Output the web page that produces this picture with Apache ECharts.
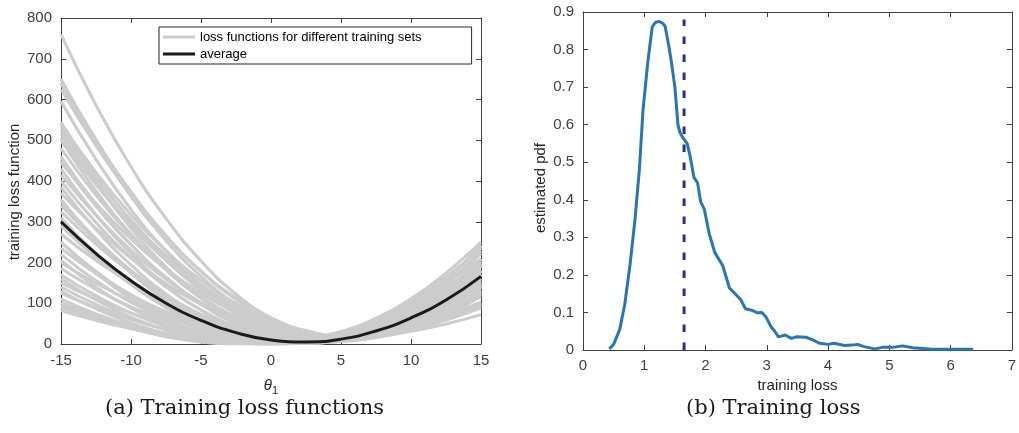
<!DOCTYPE html>
<html>
<head>
<meta charset="utf-8">
<script src="https://cdn.jsdelivr.net/npm/echarts@6/dist/echarts.min.js"></script>
<style>
  html, body { margin: 0; padding: 0; background: #fff; }
  #chart { width: 1019px; height: 433px; }
</style>
</head>
<body>
<div id="chart"></div>
<script>
// (a) loss functions sampled at these theta values
const thetaGrid = [-15, -12.5, -10, -7.5, -5, -2.5, 0, 2.5, 5, 7.5, 10, 12.5, 15];
const lossCurves = [
  [760, 586, 435, 308, 204, 122, 64, 29, 18, 29, 64, 122, 203],
  [650, 502, 374, 266, 178, 109, 59, 30, 20, 30, 59, 109, 178],
  [640, 491, 362, 254, 166, 98, 51, 24, 18, 33, 68, 123, 198],
  [625, 487, 366, 264, 179, 113, 64, 33, 20, 26, 49, 91, 150],
  [595, 453, 330, 228, 145, 83, 41, 19, 17, 35, 73, 131, 209],
  [545, 414, 301, 207, 132, 75, 36, 16, 14, 30, 65, 119, 191],
  [535, 399, 284, 189, 114, 59, 25, 10, 16, 42, 89, 156, 243],
  [525, 407, 304, 217, 146, 91, 52, 28, 20, 28, 52, 91, 146],
  [515, 395, 292, 205, 134, 80, 42, 20, 15, 27, 55, 99, 160],
  [500, 376, 270, 182, 112, 60, 26, 10, 11, 31, 69, 124, 198],
  [480, 365, 266, 183, 117, 67, 33, 15, 13, 28, 59, 106, 169],
  [460, 343, 244, 162, 97, 50, 21, 9, 14, 36, 76, 134, 209],
  [445, 345, 258, 185, 125, 78, 45, 25, 18, 25, 45, 78, 125],
  [430, 317, 222, 144, 83, 40, 14, 5, 14, 40, 83, 144, 222],
  [415, 316, 230, 159, 101, 58, 28, 13, 11, 24, 50, 91, 146],
  [400, 298, 212, 140, 84, 43, 17, 6, 11, 31, 66, 116, 181],
  [385, 281, 194, 123, 69, 31, 9, 4, 16, 44, 88, 149, 227],
  [370, 284, 210, 148, 97, 58, 31, 16, 12, 21, 41, 73, 116],
  [355, 256, 174, 108, 58, 24, 6, 4, 19, 49, 96, 159, 239],
  [340, 254, 180, 119, 71, 36, 14, 5, 9, 26, 56, 99, 154],
  [325, 245, 176, 119, 73, 39, 17, 7, 8, 21, 45, 81, 129],
  [310, 221, 148, 89, 45, 16, 3, 4, 21, 53, 100, 161, 238],
  [290, 212, 146, 93, 52, 23, 7, 3, 12, 33, 67, 113, 171],
  [270, 205, 150, 104, 67, 39, 20, 10, 9, 17, 34, 60, 96],
  [250, 178, 119, 71, 36, 13, 2, 3, 17, 42, 80, 130, 192],
  [235, 173, 121, 79, 46, 22, 8, 3, 8, 22, 46, 79, 121],
  [220, 155, 102, 60, 29, 9, 1, 5, 20, 46, 83, 132, 193],
  [200, 149, 106, 71, 43, 22, 9, 4, 6, 16, 34, 59, 91],
  [185, 134, 91, 56, 30, 13, 4, 3, 10, 26, 51, 84, 125],
  [170, 118, 76, 43, 20, 6, 1, 6, 20, 43, 76, 118, 170],
  [150, 110, 76, 48, 27, 12, 4, 2, 7, 18, 35, 59, 89],
  [140, 97, 62, 35, 16, 4, 0, 4, 16, 35, 62, 97, 140],
  [125, 89, 60, 36, 18, 7, 2, 2, 9, 21, 40, 65, 96],
  [110, 74, 46, 24, 9, 1, 1, 7, 20, 40, 68, 102, 144],
  [100, 69, 44, 25, 11, 3, 0, 3, 11, 25, 44, 69, 100],
  [90, 62, 39, 21, 9, 2, 0, 4, 13, 27, 47, 72, 103],
  [82, 58, 38, 22, 10, 3, 0, 1, 7, 17, 31, 49, 72],
  [95, 63, 38, 19, 6, 1, 1, 8, 22, 42, 69, 102, 142],
  [160, 108, 66, 34, 13, 2, 1, 10, 29, 59, 99, 149, 209],
  [205, 140, 88, 48, 20, 4, 0, 9, 30, 63, 108, 165, 234],
  [100, 65, 38, 18, 5, 0, 2, 12, 29, 53, 85, 124, 171],
  [130, 86, 52, 26, 9, 1, 2, 12, 30, 58, 94, 140, 194],
  [250, 174, 111, 63, 28, 7, 0, 7, 28, 63, 111, 174, 250],
  [300, 217, 147, 91, 48, 20, 5, 3, 15, 41, 81, 135, 202],
  [350, 258, 180, 116, 67, 31, 10, 3, 10, 31, 67, 116, 180],
  [450, 338, 243, 164, 101, 54, 24, 9, 11, 29, 63, 113, 179],
  [505, 391, 292, 208, 140, 86, 48, 25, 18, 25, 48, 86, 140],
  [540, 421, 317, 229, 156, 99, 57, 31, 20, 25, 45, 81, 132]
];
const avgLoss = [300, 222, 155, 100, 58, 28, 10, 5, 12, 32, 64, 108, 166];

// (b) estimated pdf of the training loss
const pdfLoss = [0.43, 0.5, 0.6, 0.68, 0.77, 0.85, 0.92, 0.98, 1.06, 1.13, 1.18, 1.24, 1.3, 1.34, 1.4, 1.44,
  1.5, 1.55, 1.58, 1.63, 1.7, 1.75, 1.81, 1.87, 1.92, 1.98, 2.06, 2.15, 2.28, 2.39, 2.47, 2.58, 2.65,
  2.75, 2.85, 2.92, 2.99, 3.07, 3.13, 3.19, 3.3, 3.4, 3.48, 3.64, 3.75, 3.86, 4.0, 4.1, 4.27, 4.4,
  4.48, 4.59, 4.76, 4.89, 5.05, 5.22, 5.38, 5.54, 5.7, 5.98, 6.37];
const pdfDensity = [0.003, 0.015, 0.055, 0.12, 0.23, 0.35, 0.48, 0.64, 0.77, 0.86, 0.872, 0.875, 0.87, 0.862, 0.81, 0.77,
  0.70, 0.60, 0.58, 0.565, 0.55, 0.515, 0.46, 0.445, 0.395, 0.375, 0.31, 0.26, 0.225, 0.165, 0.152, 0.133, 0.11,
  0.106, 0.099, 0.10, 0.087, 0.062, 0.05, 0.035, 0.040, 0.031, 0.035, 0.034, 0.027, 0.018, 0.015, 0.018, 0.012, 0.013,
  0.015, 0.009, 0.003, 0.007, 0.007, 0.011, 0.006, 0.004, 0.002, 0.002, 0.002];
const meanLoss = 1.65;
const meanLineTop = 0.88;

const axisColor = '#404040';
const labelFont = { color: axisColor, fontSize: 15, fontFamily: 'Liberation Sans' };
const nameFont = { color: '#262626', fontSize: 15, fontFamily: 'Liberation Sans' };

const boxAxis = (extra) => Object.assign({
  axisLine: { show: true, onZero: false, lineStyle: { color: axisColor, width: 1 } },
  axisTick: { show: true, inside: true, length: 5, lineStyle: { color: axisColor } },
  splitLine: { show: false }
}, extra);

const chart = echarts.init(document.getElementById('chart'));

const series = [];
lossCurves.forEach(curve => {
  series.push({
    name: 'loss functions for different training sets',
    type: 'line',
    xAxisIndex: 0, yAxisIndex: 0,
    data: thetaGrid.map((t, i) => [t, curve[i]]),
    smooth: true,
    symbol: 'none',
    silent: true,
    lineStyle: { color: '#cccccc', width: 3 },
    itemStyle: { color: '#cccccc' }
  });
});
series.push({
  name: 'average',
  type: 'line',
  xAxisIndex: 0, yAxisIndex: 0,
  data: thetaGrid.map((t, i) => [t, avgLoss[i]]),
  smooth: true,
  symbol: 'none',
  lineStyle: { color: '#1a1a1a', width: 3 },
  itemStyle: { color: '#1a1a1a' }
});
series.push({
  type: 'line',
  xAxisIndex: 2, yAxisIndex: 2,
  data: pdfLoss.map((x, i) => [x, pdfDensity[i]]),
  symbol: 'none',
  lineStyle: { color: '#2677b4', width: 3 }
});
series.push({
  type: 'line',
  xAxisIndex: 2, yAxisIndex: 2,
  data: [[meanLoss, 0], [meanLoss, meanLineTop]],
  symbol: 'none',
  lineStyle: { color: '#2b2f8c', width: 3, type: [7.5, 10.5] }
});

chart.setOption({
  animation: false,
  grid: [
    { left: 61, top: 18, width: 420, height: 326 },
    { left: 583, top: 12, width: 430, height: 338 }
  ],
  legend: {
    data: [
      { name: 'loss functions for different training sets', icon: 'rect' },
      { name: 'average', icon: 'rect' }
    ],
    left: 159, top: 27,
    orient: 'vertical',
    itemWidth: 32, itemHeight: 3, itemGap: 3,
    padding: [3, 50, 3, 4],
    borderColor: '#262626', borderWidth: 1,
    backgroundColor: '#fff',
    selectedMode: false,
    textStyle: { color: '#000', fontSize: 13, lineHeight: 14, fontFamily: 'Liberation Sans' }
  },
  xAxis: [
    boxAxis({ type: 'value', gridIndex: 0, min: -15, max: 15, interval: 5,
      axisLabel: Object.assign({ margin: 9 }, labelFont),
      name: '{t|θ}{s|1}', nameLocation: 'middle', nameGap: 31,
      nameTextStyle: { rich: {
        t: { fontStyle: 'italic', fontSize: 15, color: '#262626', fontFamily: 'Liberation Sans' },
        s: { fontSize: 11, color: '#262626', fontFamily: 'Liberation Sans', padding: [10, 0, 0, 0] }
      } } }),
    boxAxis({ type: 'value', gridIndex: 0, position: 'top', min: -15, max: 15, interval: 5,
      axisLabel: { show: false } }),
    boxAxis({ type: 'value', gridIndex: 1, min: 0, max: 7, interval: 1,
      axisLabel: Object.assign({ margin: 8 }, labelFont),
      name: 'training loss', nameLocation: 'middle', nameGap: 28, nameTextStyle: nameFont }),
    boxAxis({ type: 'value', gridIndex: 1, position: 'top', min: 0, max: 7, interval: 1,
      axisLabel: { show: false } })
  ],
  yAxis: [
    boxAxis({ type: 'value', gridIndex: 0, min: 0, max: 800, interval: 100,
      axisLabel: Object.assign({ margin: 9 }, labelFont),
      name: 'training loss function', nameLocation: 'middle', nameGap: 39,
      nameTextStyle: Object.assign({ padding: [0, 22, 0, 0] }, nameFont) }),
    boxAxis({ type: 'value', gridIndex: 0, position: 'right', min: 0, max: 800, interval: 100,
      axisLabel: { show: false } }),
    boxAxis({ type: 'value', gridIndex: 1, min: 0, max: 0.9, interval: 0.1,
      axisLabel: Object.assign({ margin: 9, formatter: v => (Math.round(v * 10) / 10).toString() }, labelFont),
      name: 'estimated pdf', nameLocation: 'middle', nameGap: 35,
      nameTextStyle: Object.assign({ padding: [0, 14, 0, 0] }, nameFont) }),
    boxAxis({ type: 'value', gridIndex: 1, position: 'right', min: 0, max: 0.9, interval: 0.1,
      axisLabel: { show: false } })
  ],
  graphic: [
    { type: 'text', left: 105, top: 398,
      style: { text: '(a) Training loss functions', fill: '#1a1a1a', fontSize: 21, fontFamily: 'DejaVu Serif' } },
    { type: 'text', left: 686, top: 398,
      style: { text: '(b) Training loss', fill: '#1a1a1a', fontSize: 21, fontFamily: 'DejaVu Serif' } }
  ],
  series: series
});

window.addEventListener('resize', () => chart.resize());
</script>
</body>
</html>
